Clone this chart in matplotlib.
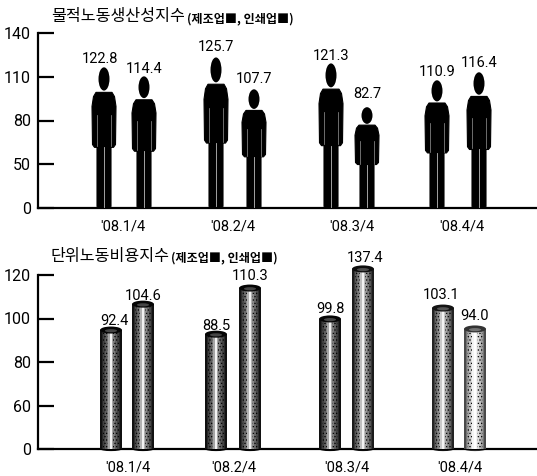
import matplotlib
matplotlib.use('Agg')
import matplotlib.pyplot as plt
import numpy as np
from matplotlib.patches import Ellipse, Polygon

plt.rcParams['font.family'] = ['Roboto', 'Noto Sans CJK KR', 'DejaVu Sans']
plt.rcParams['hatch.linewidth'] = 0.5

quarters = ["'08.1/4", "'08.2/4", "'08.3/4", "'08.4/4"]

# productivity index: printed labels, and the figure heights as they read on the axis
prod_ticks = [0, 50, 80, 110, 140]
prod_labels = ['122.8', '114.4', '125.7', '107.7', '121.3', '82.7', '110.9', '116.4']
prod_heights = [116.7, 110.5, 123.5, 101.6, 119.4, 89.3, 107.8, 113.3]

# unit labour cost index: the drawn bars do not follow the printed numbers either
cost_ticks = [0, 60, 80, 100, 120]
cost_labels = ['92.4', '104.6', '88.5', '110.3', '99.8', '137.4', '103.1', '94.0']
cost_heights = [94.7, 106.6, 92.8, 114.0, 99.8, 122.8, 104.8, 95.2]

W, H = 537, 476


def make_axes(fig, y_base, y_top, ticks):
    ax = fig.add_axes([38 / W, 1 - y_base / H, 1 - 38 / W, (y_base - y_top) / H])
    ax.patch.set_visible(False)
    ax.set_xlim(38, W)
    ax.set_ylim(0, len(ticks) - 1)
    ax.set_yticks(range(len(ticks)))
    ax.set_yticklabels(ticks, fontsize=11.5)
    ax.tick_params(axis='y', direction='in', length=11.5, width=1.6, pad=5)
    ax.tick_params(axis='x', length=0)
    for side in ['top', 'right']:
        ax.spines[side].set_visible(False)
    for side in ['left', 'bottom']:
        ax.spines[side].set_linewidth(1.6)
    return ax


def to_slot(value, ticks):
    # axis labels are evenly spaced but not evenly valued
    ticks = list(ticks) + [ticks[-1] + (ticks[-1] - ticks[-2])]
    return np.interp(value, ticks, range(len(ticks)))


def draw_person(ax, x, top):
    outline = [(-7, 0.012), (-6, 0), (-1, 0), (0, 0.01), (1, 0), (6, 0), (7, 0.012),
               (7, 0.43), (9.5, 0.43), (11.5, 0.45), (12, 0.72), (10.5, 0.79), (8, 0.82),
               (-8, 0.82), (-10.5, 0.79), (-12, 0.72), (-11.5, 0.45), (-9.5, 0.43), (-7, 0.43)]
    pts = [(x + dx, f * top) for dx, f in outline]
    ax.add_patch(Polygon(pts, closed=True, fc='black', ec='black', lw=0.8, joinstyle='round', zorder=3))
    ax.add_patch(Ellipse((x, 0.915 * top), 11, 0.165 * top, fc='black', ec='none', zorder=3))
    # thin light slits between legs and arms
    ax.plot([x, x], [0.01 * top, 0.43 * top], color='#bbbbbb', lw=0.6, zorder=4)
    for dx in [-7, 7]:
        ax.plot([x + dx, x + dx], [0.44 * top, 0.66 * top], color='#999999', lw=0.5, zorder=4)


def draw_cylinder(ax, x, top, slot_px, edge, core, power):
    width = 22
    n = 13
    offs = np.linspace(-0.5, 0.5, n, endpoint=False) + 0.5 / n
    for o in offs:
        t = abs(o) * 2
        c = core * (1 - t ** power) + edge * t ** power
        # halftone dots on the transition strips, like the scanned print
        hatch = '.....' if 0.2 < t < 0.75 else None
        ax.bar(x + o * width, top, width=width / n + 0.2, color=str(float(c)), lw=0,
               hatch=hatch, edgecolor='black', zorder=3, clip_on=False)
    cap_h = 7 / slot_px
    ax.add_patch(Ellipse((x, top), width, cap_h, fc=str(edge), ec='none', zorder=4, clip_on=False))
    ax.add_patch(Ellipse((x, top - 0.1 * cap_h), width * 0.55, cap_h * 0.45, fc=str(min(edge + 0.25, 1)),
                         ec='none', zorder=5, clip_on=False))
    ax.add_patch(Ellipse((x, 0), width, cap_h * 0.6, fc=str(edge), ec='none', zorder=2, clip_on=False))


fig = plt.figure(figsize=(W / 100, H / 100), dpi=100)

# upper chart
ax1 = make_axes(fig, 208, 33, prod_ticks)
person_x = [104, 144, 216, 254, 331, 367, 437, 479]
label_x = [100, 144, 216, 254, 331, 367, 437, 479]
label_y = [59, 69, 47, 79, 56, 94, 72, 63]
for i, h in enumerate(prod_heights):
    draw_person(ax1, person_x[i], to_slot(h, prod_ticks))
    ax1.text(label_x[i], (208 - label_y[i]) / 43.75, prod_labels[i], ha='center', va='center', fontsize=10.5)
ax1.set_xticks([123, 233, 352, 462])
ax1.set_xticklabels(quarters, fontsize=10.5)
ax1.tick_params(axis='x', pad=8)

# lower chart
ax2 = make_axes(fig, 449, 275, cost_ticks)
bar_x = [111, 143, 216, 250, 330, 363, 443, 475]
bar_edge = [0.02, 0.02, 0.02, 0.02, 0.02, 0.05, 0.08, 0.2]
bar_core = [0.95, 0.95, 0.95, 0.95, 0.95, 0.95, 0.95, 1.0]
bar_power = [0.6, 0.7, 0.6, 0.7, 0.6, 0.8, 0.9, 1.5]
label_x2 = [114, 143, 216, 250, 330, 365, 441, 475]
label_y2 = [321, 296, 326, 276, 309, 258, 295, 316]
for i, h in enumerate(cost_heights):
    draw_cylinder(ax2, bar_x[i], to_slot(h, cost_ticks), 43.5, bar_edge[i], bar_core[i], bar_power[i])
    ax2.text(label_x2[i], (449 - label_y2[i]) / 43.5, cost_labels[i], ha='center', va='center', fontsize=10.5)
ax2.set_xticks([128, 234, 347, 460])
ax2.set_xticklabels(quarters, fontsize=10.5)
ax2.tick_params(axis='x', pad=8)

# titles
kr = ['Noto Sans CJK KR', 'DejaVu Sans']
fig.text(51 / W, 1 - 17 / H, '물적노동생산성지수', family=kr, fontsize=11.6, weight='medium', va='center')
fig.text(187 / W, 1 - 19 / H, '(제조업■, 인쇄업■)', family=kr, fontsize=8.7, weight='bold', va='center')
fig.text(51 / W, 1 - 256 / H, '단위노동비용지수', family=kr, fontsize=11.6, weight='medium', va='center')
fig.text(171 / W, 1 - 258 / H, '(제조업■, 인쇄업■)', family=kr, fontsize=8.7, weight='bold', va='center')

fig.savefig('out.png', dpi=100)
